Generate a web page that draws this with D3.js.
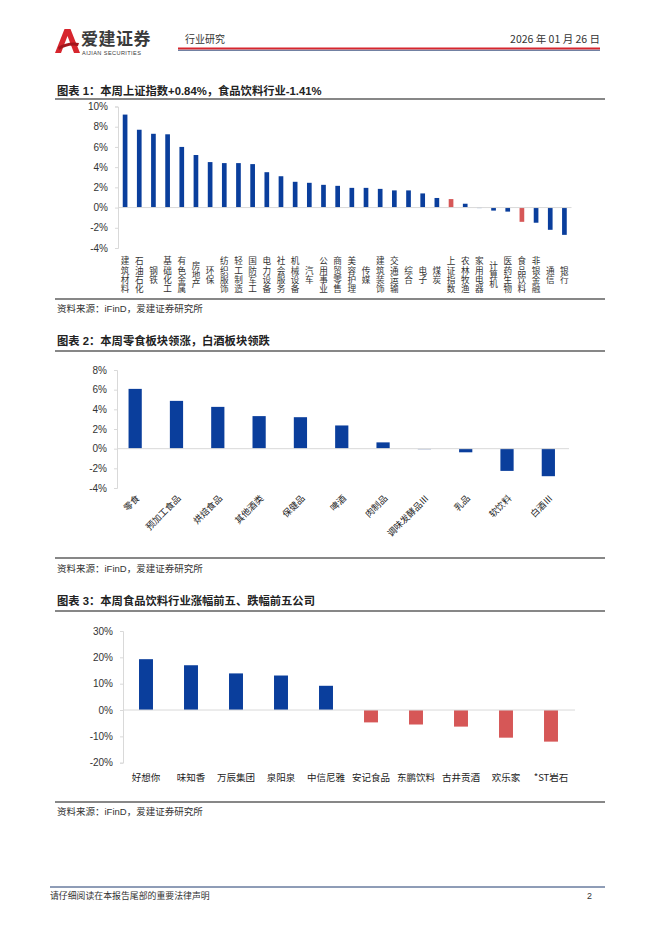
<!DOCTYPE html>
<html><head><meta charset="utf-8">
<script src="https://cdn.jsdelivr.net/npm/d3@7"></script>
<style>
html,body{margin:0;padding:0;background:#fff;}
svg{display:block;}
</style></head>
<body>
<svg id="page" width="662" height="936"></svg>
<script>
// ---------- DATA ----------
const cats1 = ["建筑材料","石油石化","钢铁","基础化工","有色金属","房地产","环保","纺织服饰","轻工制造","国防军工","电力设备","社会服务","机械设备","汽车","公用事业","商贸零售","美容护理","传媒","建筑装饰","交通运输","综合","电子","煤炭","上证指数","农林牧渔","家用电器","计算机","医药生物","食品饮料","非银金融","通信","银行"];
const vals1 = [9.2,7.7,7.3,7.25,6.0,5.2,4.5,4.4,4.4,4.3,3.5,3.1,2.55,2.45,2.25,2.15,1.95,1.95,1.85,1.7,1.7,1.4,0.95,0.84,0.38,-0.05,-0.3,-0.4,-1.41,-1.5,-2.2,-2.7];
const highlight1 = ["上证指数","食品饮料"];
const ticks1 = [-4,-2,0,2,4,6,8,10];

const cats2 = ["零食","预加工食品","烘焙食品","其他酒类","保健品","啤酒","肉制品","调味发酵品Ⅲ","乳品","软饮料","白酒Ⅲ"];
const vals2 = [6.08,4.86,4.25,3.31,3.2,2.36,0.64,-0.1,-0.37,-2.26,-2.8];
const ticks2 = [-4,-2,0,2,4,6,8];

const cats3 = ["好想你","味知香","万辰集团","泉阳泉","中信尼雅","安记食品","东鹏饮料","古井贡酒","欢乐家","*ST岩石"];
const vals3 = [19.3,17.0,13.9,13.1,9.2,-4.7,-5.5,-6.3,-10.5,-12.0];
const ticks3 = [-20,-10,0,10,20,30];

const titles = ["图表 1：本周上证指数+0.84%，食品饮料行业-1.41%","图表 2：本周零食板块领涨，白酒板块领跌","图表 3：本周食品饮料行业涨幅前五、跌幅前五公司"];
const sourceText = "资料来源：iFinD，爱建证券研究所";

// ---------- STYLE ----------
const BLUE = "#0a3e9c", RED = "#d65757", AXIS = "#d9d9d9", TXT = "#333";
const FONT = "'Liberation Sans','Noto Sans CJK SC',sans-serif";
const CJK = "'Noto Sans CJK SC','Liberation Sans',sans-serif";

const svg = d3.select("#page");

// ---------- HEADER ----------
const hdr = svg.append("g");
hdr.append("path").attr("d","M55,53 L64.5,29 L70.5,29 L80,53 L74,53 L67.5,36 L61,53 Z").attr("fill","#d7262e");
hdr.append("path").attr("d","M58,47 Q68,41 79,43 L78,46 Q68,44 59,50 Z").attr("fill","#a3151c");
hdr.append("text").attr("x",81).attr("y",45).attr("font-family",CJK).attr("font-size",17).attr("font-weight","bold").attr("fill","#3a3a3a").attr("letter-spacing",0.5).text("爱建证券");
hdr.append("text").attr("x",82).attr("y",54.5).attr("font-family",FONT).attr("font-size",5.6).attr("fill","#3a3a3a").attr("letter-spacing",0.4).text("AIJIAN SECURITIES");
hdr.append("text").attr("x",185).attr("y",43).attr("font-family",CJK).attr("font-size",10).attr("fill",TXT).text("行业研究");
hdr.append("text").attr("x",600).attr("y",43).attr("text-anchor","end").attr("font-family",CJK).attr("font-size",10.5).attr("fill",TXT).text("2026 年 01 月 26 日");
hdr.append("line").attr("x1",178).attr("x2",600).attr("y1",48.5).attr("y2",48.5).attr("stroke","#d7262e").attr("stroke-width",2.2);
hdr.append("line").attr("x1",178).attr("x2",600).attr("y1",50.3).attr("y2",50.3).attr("stroke","#1f3a6e").attr("stroke-width",0.8);

// ---------- FRAME HELPERS ----------
function frame(title, titleY, topLine, bottomLine, srcY){
  svg.append("text").attr("x",57).attr("y",titleY).attr("font-family",FONT).attr("font-size",11.3).attr("font-weight","bold").attr("fill","#222").text(title);
  svg.append("line").attr("x1",55).attr("x2",605).attr("y1",topLine).attr("y2",topLine).attr("stroke","#111").attr("stroke-width",1.2);
  svg.append("line").attr("x1",55).attr("x2",605).attr("y1",bottomLine).attr("y2",bottomLine).attr("stroke","#111").attr("stroke-width",1.2);
  svg.append("text").attr("x",57).attr("y",srcY).attr("font-family",FONT).attr("font-size",9.5).attr("fill",TXT).text(sourceText);
}

function yAxis(g, y, x0, ticks, fs){
  const ax = d3.axisLeft(y).tickValues(ticks).tickFormat(d=>d+"%").tickSize(3).tickPadding(7);
  const a = g.append("g").attr("transform",`translate(${x0},0)`).call(ax);
  a.select(".domain").attr("stroke",AXIS);
  a.selectAll(".tick line").attr("stroke",AXIS);
  a.selectAll(".tick text").attr("font-family",FONT).attr("font-size",fs).attr("fill",TXT);
}

// ---------- CHART 1 ----------
frame(titles[0], 95, 99, 299, 312);
{
  const g = svg.append("g");
  const x = d3.scaleBand().domain(cats1).range([118,571.5]).paddingInner(0.67).paddingOuter(0.335);
  const y = d3.scaleLinear().domain([-4,10]).range([248,106.5]);
  yAxis(g, y, 118, ticks1, 10);
  g.selectAll("rect.b").data(cats1).join("rect")
    .attr("x",d=>x(d)).attr("width",x.bandwidth())
    .attr("y",(d,i)=>y(Math.max(0,vals1[i]))).attr("height",(d,i)=>Math.abs(y(vals1[i])-y(0)))
    .attr("fill",d=>highlight1.includes(d)?RED:BLUE);
  g.append("line").attr("x1",118).attr("x2",571.5).attr("y1",y(0)).attr("y2",y(0)).attr("stroke",AXIS);
  const ch = 9.3, cy = 275;
  cats1.forEach(c=>{
    const chars = Array.from(c);
    const t = g.append("text").attr("font-family",CJK).attr("font-size",8.6).attr("fill",TXT).attr("text-anchor","middle");
    chars.forEach((k,j)=>{
      t.append("tspan").attr("x",x(c)+x.bandwidth()/2).attr("y",cy - chars.length*ch/2 + (j+1)*ch - 1.5).text(k);
    });
  });
}

// ---------- CHART 2 ----------
frame(titles[1], 345, 351, 558, 572);
{
  const g = svg.append("g");
  const x = d3.scaleBand().domain(cats2).range([114.5,569]).paddingInner(0.68).paddingOuter(0.34);
  const y = d3.scaleLinear().domain([-4,8]).range([488,370]);
  yAxis(g, y, 117, ticks2, 10);
  g.selectAll("rect.b").data(cats2).join("rect")
    .attr("x",d=>x(d)).attr("width",x.bandwidth())
    .attr("y",(d,i)=>y(Math.max(0,vals2[i]))).attr("height",(d,i)=>Math.abs(y(vals2[i])-y(0)))
    .attr("fill",(d,i)=>Math.abs(vals2[i])<0.15?"#b8c4dc":BLUE);
  g.append("line").attr("x1",117).attr("x2",569).attr("y1",y(0)).attr("y2",y(0)).attr("stroke",AXIS);
  cats2.forEach(c=>{
    const cx = x(c)+x.bandwidth()/2+5, cy = 499;
    g.append("text").attr("transform",`translate(${cx},${cy}) rotate(-45)`)
      .attr("text-anchor","end").attr("font-family",CJK).attr("font-size",9).attr("fill","#222").text(c);
  });
}

// ---------- CHART 3 ----------
frame(titles[2], 605, 611, 802, 815);
{
  const g = svg.append("g");
  const x = d3.scaleBand().domain(cats3).range([123.5,573.5]).paddingInner(0.69).paddingOuter(0.345);
  const y = d3.scaleLinear().domain([-20,30]).range([762.7,631]);
  yAxis(g, y, 123, ticks3, 10);
  g.selectAll("rect.b").data(cats3).join("rect")
    .attr("x",d=>x(d)).attr("width",x.bandwidth())
    .attr("y",(d,i)=>y(Math.max(0,vals3[i]))).attr("height",(d,i)=>Math.abs(y(vals3[i])-y(0)))
    .attr("fill",(d,i)=>vals3[i]>=0?BLUE:RED);
  g.append("line").attr("x1",123).attr("x2",575).attr("y1",y(0)).attr("y2",y(0)).attr("stroke",AXIS);
  g.selectAll("text.c").data(cats3).join("text")
    .attr("x",d=>x(d)+x.bandwidth()/2).attr("y",781).attr("text-anchor","middle")
    .attr("font-family",CJK).attr("font-size",9.5).attr("fill","#222").text(d=>d);
}

// ---------- FOOTER ----------
svg.append("line").attr("x1",50).attr("x2",605).attr("y1",887).attr("y2",887).attr("stroke","#1f3a6e").attr("stroke-width",1);
svg.append("text").attr("x",50).attr("y",899).attr("font-family",CJK).attr("font-size",8.9).attr("fill",TXT).text("请仔细阅读在本报告尾部的重要法律声明");
svg.append("text").attr("x",592).attr("y",899).attr("text-anchor","end").attr("font-family",FONT).attr("font-size",8.9).attr("fill",TXT).text("2");
</script>
</body></html>
